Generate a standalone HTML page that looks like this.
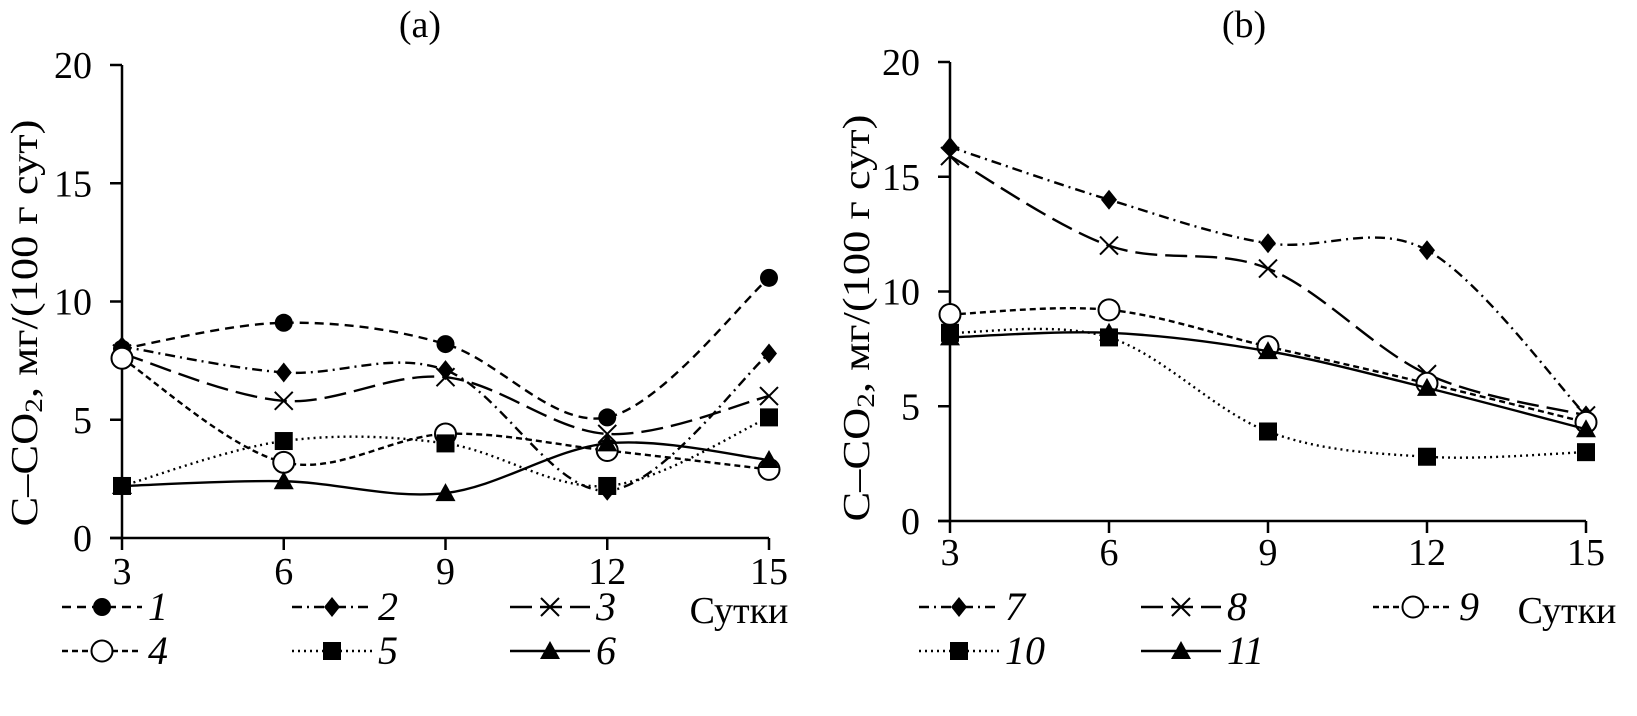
<!DOCTYPE html>
<html><head><meta charset="utf-8"><style>
html,body{margin:0;padding:0;background:#fff;}
svg{display:block;font-family:"Liberation Serif",serif;}
</style></head><body>
<svg id="chart" width="1637" height="716" viewBox="0 0 1637 716" xmlns="http://www.w3.org/2000/svg">
<rect width="1637" height="716" fill="#fff"/>
</svg>
<script>
const days = [3, 6, 9, 12, 15];
const yTicks = [0, 5, 10, 15, 20];
const aS1 = [8.0, 9.1, 8.2, 5.1, 11.0];
const aS2 = [8.1, 7.0, 7.1, 2.0, 7.8];
const aS3 = [7.8, 5.8, 6.8, 4.4, 6.0];
const aS4 = [7.6, 3.2, 4.4, 3.7, 2.9];
const aS5 = [2.2, 4.1, 4.0, 2.2, 5.1];
const aS6 = [2.2, 2.4, 1.9, 4.0, 3.3];
const bS7 = [16.3, 14.0, 12.1, 11.8, 4.6];
const bS8 = [15.9, 12.0, 11.0, 6.4, 4.6];
const bS9 = [9.0, 9.2, 7.6, 6.0, 4.3];
const bS10 = [8.2, 8.0, 3.9, 2.8, 3.0];
const bS11 = [8.0, 8.2, 7.4, 5.8, 4.0];
const labelsA = ['1','2','3','4','5','6'];
const labelsB = ['7','8','9','10','11'];

const NS = 'http://www.w3.org/2000/svg';
const svg = document.getElementById('chart');
function mk(tag, attrs, parent){const e=document.createElementNS(NS,tag);for(const k in attrs)e.setAttribute(k,attrs[k]);(parent||svg).appendChild(e);return e;}

const styles = {dash:'9,6', dashdot:'10,5,2,5', longdash:'22,8', short:'6,4', dot:'2,4', solid:''};

function drawMarker(g, type, x, y){
  let m;
  if(type==='circle') m=mk('circle',{cx:x,cy:y,r:9,fill:'#000'},g);
  else if(type==='open') m=mk('circle',{cx:x,cy:y,r:10.5,fill:'#fff',stroke:'#000','stroke-width':2},g);
  else if(type==='diamond') m=mk('polygon',{points:`${x},${y-10} ${x+8},${y} ${x},${y+10} ${x-8},${y}`,fill:'#000'},g);
  else if(type==='square') m=mk('rect',{x:x-9,y:y-9,width:18,height:18,fill:'#000'},g);
  else if(type==='tri') m=mk('polygon',{points:`${x},${y-10} ${x+10},${y+8} ${x-10},${y+8}`,fill:'#000'},g);
  else m=mk('path',{d:`M${x-9},${y-9}L${x+9},${y+9}M${x+9},${y-9}L${x-9},${y+9}`,stroke:'#000','stroke-width':2,fill:'none'},g);
  
  
}

function spline(pts){
  let d=`M${pts[0][0]},${pts[0][1]}`;
  for(let i=0;i<pts.length-1;i++){
    const p0=pts[Math.max(0,i-1)],p1=pts[i],p2=pts[i+1],p3=pts[Math.min(pts.length-1,i+2)];
    const c1=[p1[0]+(p2[0]-p0[0])/6,p1[1]+(p2[1]-p0[1])/6];
    const c2=[p2[0]-(p3[0]-p1[0])/6,p2[1]-(p3[1]-p1[1])/6];
    d+=`C${c1[0]},${c1[1]} ${c2[0]},${c2[1]} ${p2[0]},${p2[1]}`;
  }
  return d;
}

function panel(cfg){
  const g=mk('g',{});
  
  
  const X=v=>cfg.x0+(v-3)/12*(cfg.x1-cfg.x0);
  const Y=v=>cfg.y0-(v/20)*(cfg.y0-cfg.y1);
  const t=mk('text',{x:cfg.titleX,y:37,'font-size':38,'text-anchor':'middle'},g);
  t.textContent=cfg.title;
  
  
  const ax=mk('path',{d:`M${cfg.x0},${cfg.y1}V${cfg.y0}M${cfg.x0-12},${cfg.y0}H${cfg.x1}`,stroke:'#000','stroke-width':2.5,fill:'none'},g);
  
  
  yTicks.forEach(v=>{
    mk('line',{x1:cfg.x0-12,x2:cfg.x0,y1:Y(v),y2:Y(v),stroke:'#000','stroke-width':2.5},g);
    const tl=mk('text',{x:cfg.x0-30,y:Y(v)+13,'font-size':38,'text-anchor':'end'},g);
    tl.textContent=v;
    
    
  });
  days.forEach(v=>{
    mk('line',{x1:X(v),x2:X(v),y1:cfg.y0,y2:cfg.y0+12,stroke:'#000','stroke-width':2.5},g);
    const tl=mk('text',{x:X(v),y:cfg.tickY,'font-size':38,'text-anchor':'middle'},g);
    tl.textContent=v;
    
    
  });
  const xt=mk('text',{x:cfg.sutX,y:623,'font-size':38,'text-anchor':'middle'},g);
  xt.textContent='Сутки';
  
  
  const yt=mk('text',{x:0,y:0,'font-size':38,'text-anchor':'middle','dominant-baseline':'central',textLength:407,lengthAdjust:'spacingAndGlyphs',transform:`translate(${cfg.ytX},${cfg.ytY}) rotate(-90)`},g);
  yt.innerHTML='C–CO<tspan font-size="25" dy="9">2</tspan><tspan dy="-9">, мг/(100 г сут)</tspan>';
  
  
  cfg.series.forEach((s,i)=>{
    const sg=mk('g',{},g);
    
    
    const pts=s.data.map((v,j)=>[X(days[j]),Y(v)]);
    const p=mk('path',{d:spline(pts),fill:'none',stroke:'#000','stroke-width':2.4,'stroke-dasharray':styles[s.st]},sg);
    
    
    pts.forEach(q=>drawMarker(sg,s.mk,q[0],q[1]));
    const lx=cfg.legX[i%3], ly=cfg.legY[Math.floor(i/3)];
    const lg=mk('g',{},g);
    
    
    mk('line',{x1:lx,x2:lx+80,y1:ly,y2:ly,stroke:'#000','stroke-width':2.4,'stroke-dasharray':styles[s.st]},lg);
    drawMarker(lg,s.mk,lx+40,ly);
    const lt=mk('text',{x:lx+86,y:ly+13,'font-size':40,'font-style':'italic'},lg);
    lt.textContent=s.label;
  });
}

panel({name:'panel-a',title:'(a)',titleX:420,sutX:739,tickY:584,ytX:25,ytY:323,x0:122,x1:769,y0:538,y1:65,legX:[62,292,510],legY:[607,651],series:[
 {label:labelsA[0],data:aS1,st:'dash',mk:'circle'},
 {label:labelsA[1],data:aS2,st:'dashdot',mk:'diamond'},
 {label:labelsA[2],data:aS3,st:'longdash',mk:'x'},
 {label:labelsA[3],data:aS4,st:'short',mk:'open'},
 {label:labelsA[4],data:aS5,st:'dot',mk:'square'},
 {label:labelsA[5],data:aS6,st:'solid',mk:'tri'}]});
panel({name:'panel-b',title:'(b)',titleX:1244,sutX:1567,tickY:565,ytX:857,ytY:318,x0:950,x1:1586,y0:521,y1:62,legX:[919,1141,1373],legY:[607,651],series:[
 {label:labelsB[0],data:bS7,st:'dashdot',mk:'diamond'},
 {label:labelsB[1],data:bS8,st:'longdash',mk:'x'},
 {label:labelsB[2],data:bS9,st:'short',mk:'open'},
 {label:labelsB[3],data:bS10,st:'dot',mk:'square'},
 {label:labelsB[4],data:bS11,st:'solid',mk:'tri'}]});
</script>
</body></html>
